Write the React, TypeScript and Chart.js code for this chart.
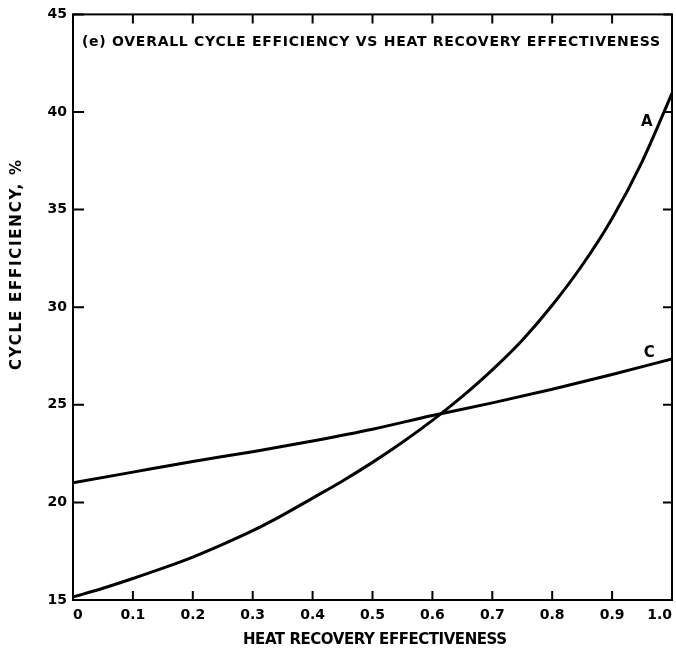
import React, { useEffect, useRef } from "react";
import { Chart, registerables } from "chart.js";

Chart.register(...registerables);

// Heat recovery effectiveness (x) and cycle efficiency, % (y)
const effectivenessA = [0, 0.05, 0.1, 0.15, 0.2, 0.25, 0.3, 0.35, 0.4, 0.45, 0.5, 0.55, 0.6, 0.65, 0.7, 0.75, 0.8, 0.85, 0.9, 0.95, 1.0];
const efficiencyA = [15.15, 15.6, 16.1, 16.63, 17.2, 17.85, 18.55, 19.35, 20.22, 21.1, 22.05, 23.08, 24.2, 25.43, 26.79, 28.31, 30.1, 32.15, 34.55, 37.45, 40.95];

const effectivenessC = [0, 0.1, 0.2, 0.3, 0.4, 0.5, 0.6, 0.7, 0.8, 0.9, 1.0];
const efficiencyC = [21.0, 21.55, 22.1, 22.6, 23.15, 23.75, 24.45, 25.1, 25.8, 26.55, 27.35];

const xTickValues = [0, 0.1, 0.2, 0.3, 0.4, 0.5, 0.6, 0.7, 0.8, 0.9, 1.0];
const yTickValues = [15, 20, 25, 30, 35, 40, 45];

const curveLabels = ["A", "C"];
const curveLabelX = [0.958, 0.962];
const curveLabelY = [39.5, 27.65];

const chartTitle = "(e) OVERALL CYCLE EFFICIENCY VS HEAT RECOVERY EFFECTIVENESS";
const xAxisTitle = "HEAT RECOVERY EFFECTIVENESS";
const yAxisTitle = "CYCLE EFFICIENCY, %";

const FONT = '"DejaVu Sans", sans-serif';

function fillFitted(ctx: CanvasRenderingContext2D, text: string, x: number, y: number, targetWidth: number) {
  (ctx as any).letterSpacing = "0px";
  const w = ctx.measureText(text).width;
  const extra = (targetWidth - w) / Math.max(1, text.length - 1);
  (ctx as any).letterSpacing = `${extra}px`;
  ctx.fillText(text, x, y);
  (ctx as any).letterSpacing = "0px";
}

const decorPlugin = {
  id: "decor",
  afterDraw(chart: any) {
    const { ctx, chartArea: ca, scales } = chart;
    const xs = scales.x;
    const ys = scales.y;
    ctx.save();
    ctx.strokeStyle = "#000";
    ctx.lineWidth = 2;
    ctx.strokeRect(ca.left, ca.top, ca.right - ca.left, ca.bottom - ca.top);

    ctx.beginPath();
    for (const v of xTickValues) {
      const px = xs.getPixelForValue(v);
      ctx.moveTo(px, ca.bottom);
      ctx.lineTo(px, ca.bottom - 9);
      ctx.moveTo(px, ca.top);
      ctx.lineTo(px, ca.top + 9);
    }
    for (const v of yTickValues) {
      const py = ys.getPixelForValue(v);
      ctx.moveTo(ca.left, py);
      ctx.lineTo(ca.left + 11, py);
      ctx.moveTo(ca.right, py);
      ctx.lineTo(ca.right - 9, py);
    }
    ctx.stroke();

    ctx.fillStyle = "#000";
    ctx.textBaseline = "middle";

    // in-plot title
    ctx.font = `bold 14px ${FONT}`;
    ctx.textAlign = "left";
    fillFitted(ctx, chartTitle, ca.left + 9, ca.top + 28, 578);

    // curve labels
    ctx.font = `bold 15px ${FONT}`;
    ctx.textAlign = "center";
    for (let i = 0; i < curveLabels.length; i++) {
      ctx.fillText(curveLabels[i], xs.getPixelForValue(curveLabelX[i]), ys.getPixelForValue(curveLabelY[i]));
    }

    // x-axis title
    ctx.font = `bold 15px ${FONT}`;
    ctx.textAlign = "left";
    fillFitted(ctx, xAxisTitle, 243, 640, 264);

    // y-axis title
    ctx.translate(17, 265);
    ctx.rotate(-Math.PI / 2);
    ctx.textAlign = "left";
    fillFitted(ctx, yAxisTitle, -105, 0, 210);
    ctx.restore();
  },
};

export default function App() {
  const canvasRef = useRef<HTMLCanvasElement | null>(null);

  useEffect(() => {
    const canvas = canvasRef.current;
    if (!canvas) return;
    const chart = new Chart(canvas, {
      type: "line",
      data: {
        datasets: [
          {
            label: "A",
            data: effectivenessA.map((x, i) => ({ x, y: efficiencyA[i] })),
            borderColor: "#000",
            borderWidth: 3,
            pointRadius: 0,
            cubicInterpolationMode: "monotone",
            fill: false,
          },
          {
            label: "C",
            data: effectivenessC.map((x, i) => ({ x, y: efficiencyC[i] })),
            borderColor: "#000",
            borderWidth: 3,
            pointRadius: 0,
            cubicInterpolationMode: "monotone",
            fill: false,
          },
        ],
      },
      options: {
        animation: false,
        responsive: false,
        maintainAspectRatio: false,
        layout: { padding: { left: 0, top: 12, right: 0, bottom: 0 } },
        plugins: {
          legend: { display: false },
          tooltip: { enabled: false },
        },
        scales: {
          x: {
            type: "linear",
            min: 0,
            max: 1,
            grid: { display: false, drawTicks: false },
            border: { display: false },
            afterFit: (scale: any) => {
              scale.height = 55;
              scale.paddingLeft = 0;
              scale.paddingRight = 4;
            },
            afterBuildTicks: (scale: any) => {
              scale.ticks = xTickValues.map((v) => ({ value: v }));
            },
            ticks: {
              align: "inner",
              padding: 7,
              color: "#000",
              font: { family: FONT, size: 14, weight: "bold" },
              maxRotation: 0,
              autoSkip: false,
              callback: (v: any) => (Number(v) === 0 ? "0" : Number(v).toFixed(1)),
            },
          },
          y: {
            type: "linear",
            min: 15,
            max: 45,
            grid: { display: false, drawTicks: false },
            border: { display: false },
            afterFit: (scale: any) => {
              scale.width = 73;
            },
            afterBuildTicks: (scale: any) => {
              scale.ticks = yTickValues.map((v) => ({ value: v }));
            },
            ticks: {
              padding: 6,
              color: "#000",
              font: { family: FONT, size: 14, weight: "bold" },
              autoSkip: false,
            },
          },
        },
      },
      plugins: [decorPlugin],
    } as any);
    return () => chart.destroy();
  }, []);

  return (
    <div style={{ position: "fixed", left: 0, top: 0, width: 676, height: 655, background: "#fff" }}>
      <canvas ref={canvasRef} width={676} height={655} style={{ display: "block" }} />
    </div>
  );
}
